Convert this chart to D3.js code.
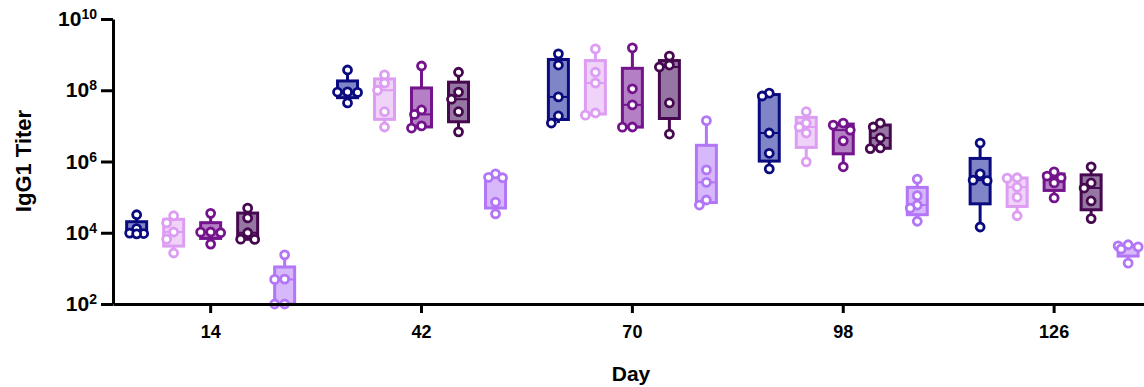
<!DOCTYPE html>
<html>
<head>
<meta charset="utf-8">
<script src="https://cdn.jsdelivr.net/npm/d3@7"></script>
<style>
  body { margin: 0; background: #fff; }
  text { font-family: "Liberation Sans", Arial, sans-serif; }
</style>
</head>
<body>
<div id="chart"></div>
<script>
// Days on the x axis
var days = [14, 42, 70, 98, 126];

// five groups, colours
var groupNames = ["Group 1", "Group 2", "Group 3", "Group 4", "Group 5"];
var strokeColors = ["#0b0b80", "#dd9df2", "#74148c", "#46094f", "#b276f6"];
var fillColors = ["#7f85c6", "#efd3f9", "#b57fc5", "#9676a2", "#d6b8fb"];

// IgG1 titers, one row per day (5 animals each)
var group1 = [
  [3.2e4, 1.3e4, 9.3e3, 9.5e3, 9.8e3],
  [3.7e8, 9.0e7, 8.9e7, 8.7e7, 4.4e7],
  [1.05e9, 5.1e8, 6.5e7, 1.9e7, 1.2e7],
  [8.3e7, 6.9e7, 6.3e6, 1.7e6, 6.2e5],
  [3.3e6, 4.5e5, 3.0e5, 2.9e5, 1.45e4]
];
var group2 = [
  [3.0e4, 1.9e4, 1.05e4, 6.6e3, 2.7e3],
  [2.7e8, 1.6e8, 1.0e8, 2.5e7, 9.3e6],
  [1.45e9, 3.2e8, 1.6e8, 2.3e7, 2.0e7],
  [2.5e7, 1.2e7, 9.3e6, 6.3e6, 9.8e5],
  [3.5e5, 3.4e5, 1.9e5, 1.0e5, 3.0e4]
];
var group3 = [
  [3.5e4, 1.05e4, 1.04e4, 1.0e4, 4.8e3],
  [4.8e8, 2.8e7, 2.1e7, 1.0e7, 8.7e6],
  [1.55e9, 1.1e8, 3.9e7, 9.3e6, 9.2e6],
  [1.2e7, 1.05e7, 7.6e6, 3.8e6, 7.1e5],
  [5.1e5, 3.9e5, 3.5e5, 2.5e5, 9.5e4]
];
var group4 = [
  [4.9e4, 2.6e4, 1.0e4, 6.6e3, 6.5e3],
  [3.2e8, 8.9e7, 5.6e7, 2.5e7, 6.8e6],
  [9.1e8, 5.1e8, 4.5e8, 4.4e7, 5.9e6],
  [1.2e7, 9.3e6, 4.6e6, 2.4e6, 2.3e6],
  [7.1e5, 2.5e5, 1.8e5, 7.8e4, 2.5e4]
];
var group5 = [
  [2.4e3, 500, 490, 100, 100],
  [4.5e5, 3.6e5, 3.5e5, 7.2e4, 3.4e4],
  [1.4e7, 5.8e5, 2.6e5, 8.3e4, 6.0e4],
  [3.2e5, 1.1e5, 6.0e4, 4.9e4, 2.1e4],
  [4.6e3, 4.3e3, 4.0e3, 3.5e3, 1.4e3]
];
var allGroups = [group1, group2, group3, group4, group5];

var yTicks = [1e2, 1e4, 1e6, 1e8, 1e10];

var svgWidth = 1144;
var svgHeight = 387;

var svg = d3.select("#chart")
  .append("svg")
  .attr("width", svgWidth)
  .attr("height", svgHeight);

var xScale = d3.scaleLinear()
  .domain([1.1, 138])
  .range([113, 1144]);

var yScale = d3.scaleLog()
  .domain([1e2, 1e10])
  .range([304, 19]);

// position of each group's box inside a day
var boxScale = d3.scaleBand()
  .domain(groupNames)
  .range([-92, 93])
  .paddingInner(0.42)
  .paddingOuter(0.21);

var boxWidth = 20;
var pointR = 4;

// GraphPad style quartiles (n+1)p
function quart(sorted, p) {
  var pos = (sorted.length + 1) * p - 1;
  var lo = Math.max(0, Math.floor(pos));
  var hi = Math.min(sorted.length - 1, Math.ceil(pos));
  var f = pos - Math.floor(pos);
  return Math.exp(Math.log(sorted[lo]) * (1 - f) + Math.log(sorted[hi]) * f);
}

var boxes = [];
allGroups.forEach(function(rows, gi) {
  rows.forEach(function(vals, di) {
    var s = vals.slice().sort(d3.ascending);
    boxes.push({
      group: groupNames[gi],
      gi: gi,
      day: days[di],
      values: vals,
      min: s[0],
      max: s[s.length - 1],
      q1: quart(s, 0.25),
      med: quart(s, 0.5),
      q3: quart(s, 0.75)
    });
  });
});

var plot = svg.append("g");

var boxG = plot.selectAll("g.box")
  .data(boxes)
  .join("g")
  .attr("class", "box")
  .attr("transform", d => `translate(${xScale(d.day) + boxScale(d.group) + boxScale.bandwidth() / 2},0)`);

// whiskers
boxG.append("line")
  .attr("x1", 0).attr("x2", 0)
  .attr("y1", d => yScale(d.max))
  .attr("y2", d => yScale(d.min))
  .attr("stroke", d => strokeColors[d.gi])
  .attr("stroke-width", 3);

// boxes
boxG.append("rect")
  .attr("x", -boxWidth / 2)
  .attr("width", boxWidth)
  .attr("y", d => yScale(d.q3))
  .attr("height", d => Math.max(1, yScale(d.q1) - yScale(d.q3)))
  .attr("fill", d => fillColors[d.gi])
  .attr("stroke", d => strokeColors[d.gi])
  .attr("stroke-width", 3);

// medians
boxG.append("line")
  .attr("x1", -boxWidth / 2).attr("x2", boxWidth / 2)
  .attr("y1", d => yScale(d.med))
  .attr("y2", d => yScale(d.med))
  .attr("stroke", d => strokeColors[d.gi])
  .attr("stroke-width", 2);

// spread overlapping points sideways (simple swarm)
function swarm(vals) {
  var placed = [];
  var cands = [0, -7, 7, -10, 10];
  var pts = vals.map(v => ({ v: v, y: yScale(v) }))
    .sort((a, b) => a.y - b.y);
  pts.forEach(function(p) {
    var best = 0, bestD = -1;
    for (var i = 0; i < cands.length; i++) {
      var dmin = d3.min(placed, q => Math.hypot(q.x - cands[i], q.y - p.y));
      if (dmin === undefined || dmin >= 7.5) { best = cands[i]; bestD = 99; break; }
      if (dmin > bestD) { bestD = dmin; best = cands[i]; }
    }
    p.x = best;
    placed.push(p);
  });
  return pts;
}

boxG.each(function(d) {
  d3.select(this).selectAll("circle")
    .data(swarm(d.values))
    .join("circle")
    .attr("cx", p => p.x)
    .attr("cy", p => p.y)
    .attr("r", pointR)
    .attr("fill", "#fff")
    .attr("stroke", strokeColors[d.gi])
    .attr("stroke-width", 2.8);
});

// axes
var bottomAxis = d3.axisBottom(xScale)
  .tickValues(days)
  .tickSize(9)
  .tickSizeOuter(0)
  .tickPadding(12);

var leftAxis = d3.axisLeft(yScale)
  .tickValues(yTicks)
  .tickSize(12)
  .tickSizeOuter(0)
  .tickPadding(4);

var xAxis = svg.append("g")
  .attr("transform", "translate(0,304)")
  .call(bottomAxis);

var yAxis = svg.append("g")
  .attr("transform", "translate(113,0)")
  .call(leftAxis);

[xAxis, yAxis].forEach(function(ax) {
  ax.select(".domain").attr("stroke", "#000").attr("stroke-width", 3);
  ax.selectAll(".tick line").attr("stroke", "#000").attr("stroke-width", 3);
});

xAxis.selectAll(".tick text")
  .attr("fill", "#000")
  .attr("font-size", "18px")
  .attr("font-weight", "bold");

yAxis.selectAll(".tick text")
  .attr("fill", "#000")
  .attr("font-size", "21px")
  .attr("font-weight", "bold")
  .each(function(d) {
    var t = d3.select(this);
    t.text(null);
    t.append("tspan").text("10");
    t.append("tspan")
      .attr("dy", "-0.5em")
      .attr("font-size", "14px")
      .text(Math.round(Math.log10(d)));
  });

// axis titles
svg.append("text")
  .attr("x", 631)
  .attr("y", 381)
  .attr("text-anchor", "middle")
  .attr("font-size", "21px")
  .attr("font-weight", "bold")
  .text("Day");

svg.append("text")
  .attr("transform", "translate(31,161) rotate(-90)")
  .attr("text-anchor", "middle")
  .attr("font-size", "22px")
  .attr("font-weight", "bold")
  .text("IgG1 Titer");
</script>
</body>
</html>
